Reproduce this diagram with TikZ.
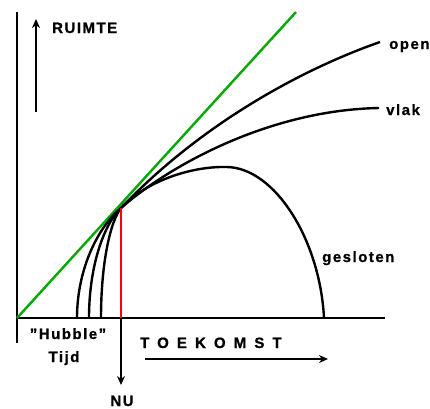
\documentclass[tikz,border=0pt]{standalone}
\usepackage{fontspec}
\setmainfont{Liberation Sans}
\usetikzlibrary{arrows.meta}
\begin{document}
\begin{tikzpicture}[x=1pt,y=-1pt,
  ax/.style={line width=2.6pt},
  crv/.style={line width=2.4pt,line join=round},
  lbl/.style={font=\fontsize{15}{16}\selectfont\bfseries\addfontfeature{LetterSpace=10,FakeBold=1},inner sep=0pt},
  arr/.style={line width=2.2pt,-{Stealth[length=9pt,width=8pt]}}]
\useasboundingbox (0,0) rectangle (430,408);
% axes
\coordinate (top) at (17,12);
\coordinate (bot) at (17,343);
\coordinate (o) at (17,318);
\coordinate (xend) at (385,318);
\draw[ax] (top) -- (bot);
\draw[ax] (o) -- (xend);
% green line
\coordinate (g2) at (296,12);
\draw[line width=2.4pt,color={rgb,255:red,0;green,170;blue,0}] (o) -- (g2);
% touch point
\coordinate (t) at (121,208);
\coordinate (tb) at (121,318);
% curves
\coordinate (s1) at (77,318);
\coordinate (s2) at (89,318);
\coordinate (s3) at (101,318);
\coordinate (e1) at (380,42);
\coordinate (e2) at (379,108);
\coordinate (e3) at (324,318);
\draw[crv] (s1) .. controls (77,268) and (99,226) .. (t)
  .. controls (200,125) and (300,70) .. (e1);
\draw[crv] (s2) .. controls (89,266) and (104,224) .. (t)
  .. controls (170,165) and (270,110) .. (e2);
\draw[crv] (s3) .. controls (101,264) and (110,222) .. (t)
  .. controls (145,182) and (190,166) .. (227,167)
  .. controls (275,168) and (320,240) .. (e3);
% red line
\draw[line width=2.4pt,red] (tb) -- (t);
% arrows
\coordinate (r1) at (36,112);
\coordinate (r2) at (36,19);
\draw[arr] (r1) -- (r2);
\coordinate (nu2) at (121,385);
\draw[arr] (tb) -- (nu2);
\coordinate (k1) at (145,359);
\coordinate (k2) at (328,359);
\draw[arr] (k1) -- (k2);
% labels
\node[lbl,anchor=base west] (ruimte) at (52,33) {RUIMTE};
\node[lbl,anchor=base west] (open) at (389,49) {open};
\node[lbl,anchor=base west] (vlak) at (386,115) {vlak};
\node[lbl,anchor=base west] (gesl) at (322,262) {gesloten};
\node[lbl,anchor=base] (hub) at (68,339) {\symbol{34}Hubble\symbol{34}};
\node[lbl,anchor=base] (tijd) at (64,362) {Tijd};
\node[lbl,anchor=base] (nu) at (122,406) {NU};
\node[lbl,anchor=base west,font=\fontsize{15}{16}\selectfont\bfseries\addfontfeature{LetterSpace=54,FakeBold=1}] (toek) at (140,348) {TOEKOMST};
\end{tikzpicture}
\end{document}
